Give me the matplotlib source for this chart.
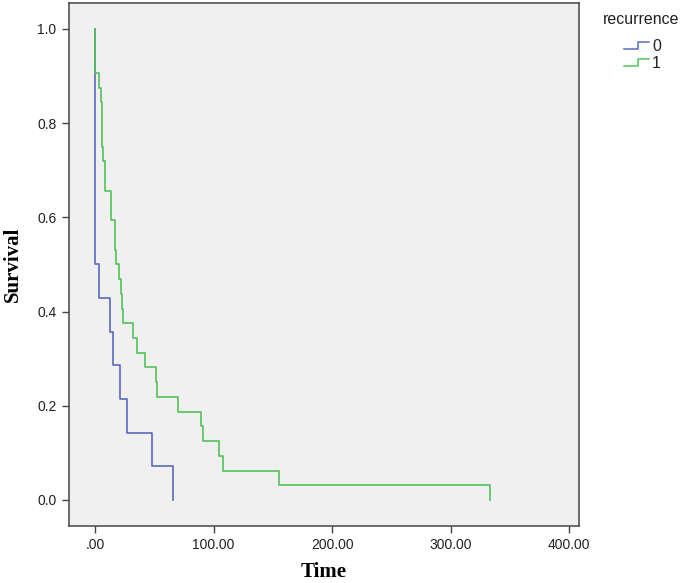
import matplotlib
matplotlib.use("Agg")
import matplotlib.pyplot as plt
from matplotlib.lines import Line2D

# Kaplan-Meier steps (time, survival after the event)
time_0 = [0, 0, 3, 13, 15, 21, 27, 48, 66]
surv_0 = [1.0, 0.5, 0.4286, 0.3571, 0.2857, 0.2143, 0.1429, 0.0714, 0.0]

time_1 = [0, 0, 3.4, 4.8, 6.2, 7.0, 8.2, 13.8, 16.9, 17.7, 20.0, 21.7, 23.0, 23.9,
          31.8, 35.7, 42.2, 51.5, 52.1, 69.8, 89.5, 91.4, 104.9, 107.8, 155.3, 333.3]
surv_1 = [1.0, 0.90625, 0.875, 0.84375, 0.75, 0.71875, 0.65625, 0.59375, 0.53125, 0.5,
          0.46875, 0.4375, 0.40625, 0.375, 0.34375, 0.3125, 0.28125, 0.25, 0.21875,
          0.1875, 0.15625, 0.125, 0.09375, 0.0625, 0.03125, 0.0]

groups = ["0", "1"]
x_ticks = [0, 100, 200, 300, 400]
x_tick_labels = [".00", "100.00", "200.00", "300.00", "400.00"]
y_ticks = [0.0, 0.2, 0.4, 0.6, 0.8, 1.0]

col_0 = "#5b6abf"
col_1 = "#52c35a"
frame_col = "#444444"

plt.rcParams["font.family"] = ["Liberation Sans", "DejaVu Sans"]

fig = plt.figure(figsize=(6.83, 5.83), dpi=100)
ax = fig.add_axes([0.101, 0.098, 0.747, 0.897])
ax.set_facecolor("#f0f0f0")

ax.step(time_0, surv_0, where="post", color=col_0, lw=1.2)
ax.step(time_1, surv_1, where="post", color=col_1, lw=1.2)

ax.set_xlim(-22, 408.4)
ax.set_ylim(-0.055, 1.055)
ax.set_xticks(x_ticks)
ax.set_xticklabels(x_tick_labels)
ax.set_yticks(y_ticks)
ax.set_yticklabels([f"{v:.1f}" for v in y_ticks])
ax.tick_params(direction="out", length=5, width=1, color=frame_col,
               labelsize=10, labelcolor="#222222", pad=4)
for sp in ax.spines.values():
    sp.set_color(frame_col)
    sp.set_linewidth(1.1)

ax.set_xlabel("Time", family="Liberation Serif", fontweight="bold", fontsize=15, labelpad=7)
ax.set_ylabel("Survival", family="Liberation Serif", fontweight="bold", fontsize=15, labelpad=10)

# legend drawn by hand so the icons are little steps like the original
W, H = 683, 583
fig.text(641.5 / W, 1 - 20 / H, "recurrence", ha="center", va="center", fontsize=11.5, color="#222222")
icon_rows = [(49.3, 42.3, col_0), (66.0, 59.3, col_1)]
for name, (lo, hi, c) in zip(groups, icon_rows):
    xs = [624 / W, 637.5 / W, 637.5 / W, 649 / W]
    ys = [1 - lo / H, 1 - lo / H, 1 - hi / H, 1 - hi / H]
    fig.add_artist(Line2D(xs, ys, color=c, lw=1.1, transform=fig.transFigure))
    fig.text(652 / W, 1 - (lo - 2.5) / H, name, ha="left", va="center", fontsize=11.5, color="#222222")

fig.savefig("out.png", dpi=100)
